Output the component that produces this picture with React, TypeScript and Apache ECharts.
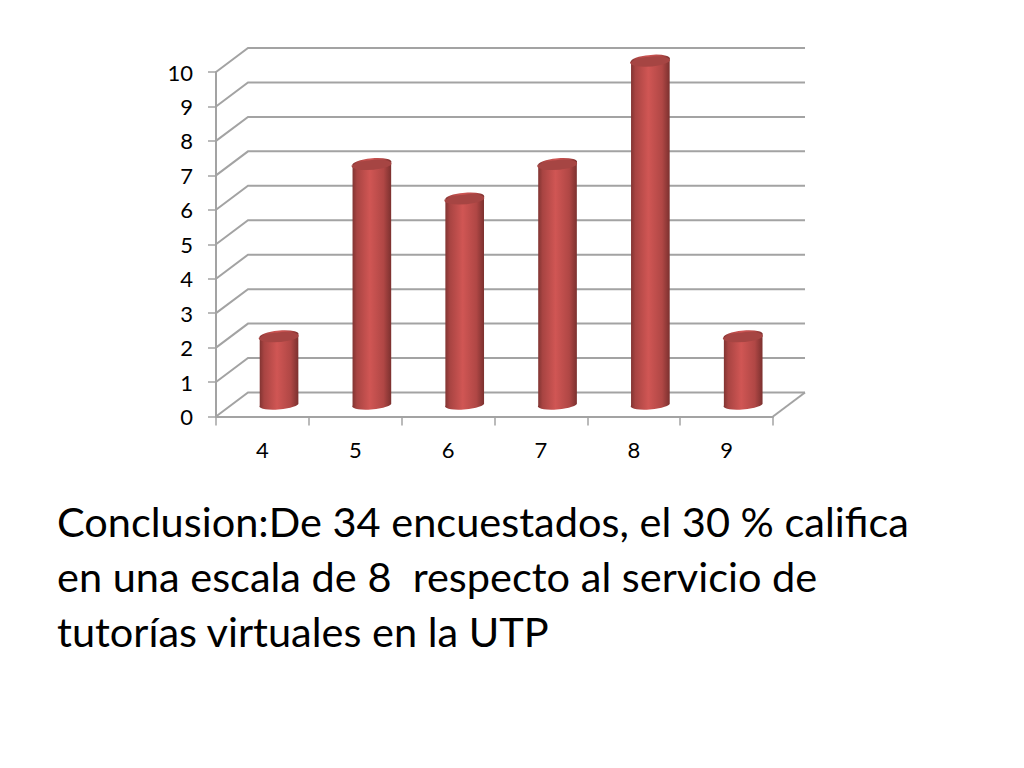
import React, { useEffect, useRef } from "react";
import * as echarts from "echarts";

const categories = ["4", "5", "6", "7", "8", "9"];
const values = [2, 7, 6, 7, 10, 2];
const yTicks = [0, 1, 2, 3, 4, 5, 6, 7, 8, 9, 10];
const conclusionLines = [
  "Conclusion:De 34 encuestados, el 30 % califica",
  "en una escala de 8  respecto al servicio de",
  "tutorías virtuales en la UTP",
];

const FONT = "Lato, 'Noto Sans', sans-serif";
const GRID_COLOR = "#a3a3a3";
const DEPTH_X = 32;
const DEPTH_Y = 24;

function renderWall(params: any, api: any) {
  const cs = params.coordSys;
  const y = api.coord([0, api.value(1)])[1];
  const x0 = cs.x;
  const x1 = cs.x + cs.width;
  const children: any[] = [
    {
      type: "polyline",
      shape: { points: [[x0, y], [x0 + DEPTH_X, y - DEPTH_Y], [x1 + DEPTH_X, y - DEPTH_Y]] },
      style: { stroke: GRID_COLOR, lineWidth: 2, fill: "none" },
    },
  ];
  if (api.value(1) === 0) {
    children.push({
      type: "line",
      shape: { x1, y1: y, x2: x1 + DEPTH_X, y2: y - DEPTH_Y },
      style: { stroke: GRID_COLOR, lineWidth: 2 },
    });
  }
  return { type: "group", children };
}

function renderCylinder(_params: any, api: any) {
  const idx = api.value(0);
  const top = api.coord([idx, api.value(1)]);
  const base = api.coord([idx, 0]);
  const rx = api.size([1, 0])[0] * 0.208;
  const ry = 5.2;
  const bry = 4.6;
  const dy = 1.6;
  const cx = top[0] + 16.6;
  const ty = top[1] - 11;
  const by = base[1] - 12.6;
  const l = cx - rx;
  const r = cx + rx;
  const rot = -5;
  const body =
    `M ${l} ${ty + dy} L ${l} ${by + dy} ` +
    `A ${rx} ${bry} ${rot} 0 0 ${r} ${by - dy} ` +
    `L ${r} ${ty - dy} A ${rx} ${ry} ${rot} 0 0 ${l} ${ty + dy} Z`;
  const cap =
    `M ${l} ${ty + dy} A ${rx} ${ry} ${rot} 0 1 ${r} ${ty - dy} ` +
    `A ${rx} ${ry} ${rot} 0 1 ${l} ${ty + dy} Z`;
  return {
    type: "group",
    children: [
      {
        type: "path",
        shape: { pathData: body },
        style: {
          fill: {
            type: "linear", x: 0, y: 0, x2: 1, y2: 0,
            colorStops: [
              { offset: 0, color: "#7f3331" },
              { offset: 0.12, color: "#a84442" },
              { offset: 0.45, color: "#d05654" },
              { offset: 0.8, color: "#b04745" },
              { offset: 1, color: "#7a302e" },
            ],
          },
        },
      },
      { type: "path", shape: { pathData: cap }, style: { fill: "#a64543" } },
    ],
  };
}

export default function App() {
  const ref = useRef<HTMLDivElement>(null);
  useEffect(() => {
    document.body.style.margin = "0";
    const chart = echarts.init(ref.current!, null, { renderer: "svg" });
    chart.setOption({
      animation: false,
      backgroundColor: "#ffffff",
      grid: { left: 216, top: 72, width: 557, height: 344.5, containLabel: false },
      xAxis: {
        type: "category",
        data: categories,
        axisLine: { lineStyle: { color: GRID_COLOR, width: 2 } },
        axisTick: { show: true, alignWithLabel: false, length: 9, lineStyle: { color: GRID_COLOR, width: 1.5 } },
        axisLabel: { color: "#000", fontFamily: FONT, fontSize: 22, margin: 22 },
        splitLine: { show: false },
      },
      yAxis: {
        type: "value",
        min: 0,
        max: 10,
        interval: 1,
        axisLine: { show: true, lineStyle: { color: GRID_COLOR, width: 2 } },
        axisTick: { show: true, length: 8, lineStyle: { color: GRID_COLOR, width: 1.5 } },
        axisLabel: { color: "#000", fontFamily: FONT, fontSize: 22, margin: 23 },
        splitLine: { show: false },
      },
      series: [
        {
          type: "custom",
          coordinateSystem: "cartesian2d",
          clip: false,
          silent: true,
          z: 1,
          encode: { x: 0, y: 1 },
          data: yTicks.map((v) => [0, v]),
          renderItem: renderWall,
        },
        {
          type: "custom",
          coordinateSystem: "cartesian2d",
          clip: false,
          silent: true,
          z: 2,
          encode: { x: 0, y: 1 },
          data: values.map((v, i) => [i, v]),
          renderItem: renderCylinder,
        },
      ],
      graphic: conclusionLines.map((line, i) => ({
        type: "text",
        left: 57,
        top: 500 + i * 55,
        style: { text: line, fontFamily: FONT, fontSize: 41.5, fill: "#000" },
      })),
    });
    return () => chart.dispose();
  }, []);
  return <div ref={ref} style={{ width: 1024, height: 768 }} />;
}
